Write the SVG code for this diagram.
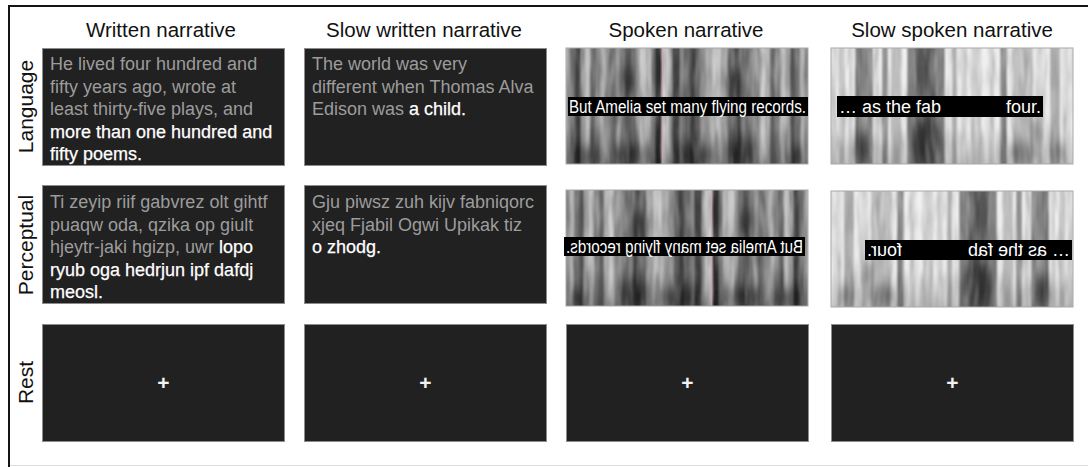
<svg xmlns="http://www.w3.org/2000/svg" width="1088" height="467" viewBox="0 0 1088 467">
  <style>
    .hdr { font-family: "Liberation Sans", Arial, sans-serif; font-size: 20.5px; fill: #111; text-anchor: middle; }
    .rowlab { font-family: "Liberation Sans", Arial, sans-serif; font-size: 21px; fill: #111; text-anchor: middle; }
    .panel { fill: #212121; stroke: #8c8c8c; stroke-width: 1; }
    .body { font-family: "Liberation Sans", Arial, sans-serif; font-size: 18px; fill: #9c9c9c; }
    .hi { fill: #ffffff; stroke: #ffffff; stroke-width: 0.25; }
    .plus { font-family: "Liberation Sans", Arial, sans-serif; font-size: 21px; font-weight: bold; fill: #f2f2f2; text-anchor: middle; }
    .bar { fill: #000; }
    .cap { font-family: "Liberation Sans", Arial, sans-serif; font-size: 17.5px; fill: #fff; }
    .specframe { fill: none; stroke: #a8a8a8; stroke-width: 1; }
  </style>
  <defs>
    <clipPath id="specClip"><rect x="0" y="0" width="242" height="116"/></clipPath>
    <filter id="soft" x="-5%" y="-5%" width="110%" height="110%">
      <feGaussianBlur stdDeviation="1.2 1.8"/>
    </filter>
    <filter id="smear" x="-20%" y="-20%" width="140%" height="140%">
      <feGaussianBlur stdDeviation="4 6"/>
    </filter>
    <filter id="grainDark" x="0" y="0" width="1" height="1">
      <feTurbulence type="fractalNoise" baseFrequency="0.25 0.025" numOctaves="2" seed="3"/>
      <feColorMatrix type="matrix" values="0 0 0 0 0  0 0 0 0 0  0 0 0 0 0  2.2 0 0 0 -0.95"/>
      <feGaussianBlur stdDeviation="0.8 1.6"/>
    </filter>
    <filter id="grainLight" x="0" y="0" width="1" height="1">
      <feTurbulence type="fractalNoise" baseFrequency="0.25 0.025" numOctaves="2" seed="11"/>
      <feColorMatrix type="matrix" values="0 0 0 0 1  0 0 0 0 1  0 0 0 0 1  2.2 0 0 0 -0.95"/>
      <feGaussianBlur stdDeviation="0.8 1.6"/>
    </filter>
    <linearGradient id="floor" x1="0" y1="0" x2="0" y2="1">
      <stop offset="0" stop-color="#000" stop-opacity="0"/>
      <stop offset="0.65" stop-color="#000" stop-opacity="0.04"/>
      <stop offset="1" stop-color="#000" stop-opacity="0.35"/>
    </linearGradient>

    <!-- spectrogram of the normal-rate sentence, 242 x 116 -->
    <g id="specA">
      <g clip-path="url(#specClip)">
        <g filter="url(#soft)">
          <rect x="-6" y="-6" width="254" height="128" fill="#e4e4e4"/>
          <g fill="#000">
            <rect x="0" y="-6" width="4" height="128" opacity="0.3"/>
            <rect x="4" y="-6" width="5" height="128" opacity="0.5"/>
            <rect x="9" y="-6" width="6" height="128" opacity="0.72"/>
            <rect x="15" y="-6" width="4" height="128" opacity="0.3"/>
            <rect x="19" y="-6" width="5" height="128" opacity="0.15"/>
            <rect x="24" y="-6" width="6" height="128" opacity="0.55"/>
            <rect x="30" y="-6" width="4" height="128" opacity="0.4"/>
            <rect x="34" y="-6" width="5" height="128" opacity="0.2"/>
            <rect x="39" y="-6" width="5" height="128" opacity="0.35"/>
            <rect x="44" y="-6" width="6" height="128" opacity="0.5"/>
            <rect x="50" y="-6" width="4" height="128" opacity="0.3"/>
            <rect x="54" y="-6" width="5" height="128" opacity="0.45"/>
            <rect x="59" y="-6" width="6" height="128" opacity="0.62"/>
            <rect x="65" y="-6" width="5" height="128" opacity="0.52"/>
            <rect x="70" y="-6" width="4" height="128" opacity="0.3"/>
            <rect x="74" y="-6" width="6" height="128" opacity="0.12"/>
            <rect x="80" y="-6" width="5" height="128" opacity="0.2"/>
            <rect x="85" y="-6" width="4" height="128" opacity="0.45"/>
            <rect x="89" y="-6" width="7" height="128" opacity="0.78"/>
            <rect x="98" y="-6" width="5" height="128" opacity="0.15"/>
            <rect x="103" y="-6" width="3" height="128" opacity="0.3"/>
            <rect x="106" y="-6" width="8" height="128" opacity="0.7"/>
            <rect x="114" y="-6" width="4" height="128" opacity="0.4"/>
            <rect x="118" y="-6" width="6" height="128" opacity="0.55"/>
            <rect x="124" y="-6" width="5" height="128" opacity="0.72"/>
            <rect x="129" y="-6" width="5" height="128" opacity="0.58"/>
            <rect x="134" y="-6" width="6" height="128" opacity="0.35"/>
            <rect x="140" y="-6" width="6" height="128" opacity="0.25"/>
            <rect x="146" y="-6" width="8" height="128" opacity="0.14"/>
            <rect x="154" y="-6" width="8" height="128" opacity="0.25"/>
            <rect x="162" y="-6" width="6" height="128" opacity="0.55"/>
            <rect x="168" y="-6" width="6" height="128" opacity="0.68"/>
            <rect x="174" y="-6" width="5" height="128" opacity="0.5"/>
            <rect x="179" y="-6" width="7" height="128" opacity="0.45"/>
            <rect x="186" y="-6" width="8" height="128" opacity="0.35"/>
            <rect x="194" y="-6" width="5" height="128" opacity="0.1"/>
            <rect x="199" y="-6" width="5" height="128" opacity="0.2"/>
            <rect x="204" y="-6" width="5" height="128" opacity="0.55"/>
            <rect x="209" y="-6" width="5" height="128" opacity="0.4"/>
            <rect x="214" y="-6" width="5" height="128" opacity="0.14"/>
            <rect x="219" y="-6" width="5" height="128" opacity="0.25"/>
            <rect x="224" y="-6" width="5" height="128" opacity="0.62"/>
            <rect x="229" y="-6" width="5" height="128" opacity="0.5"/>
            <rect x="234" y="-6" width="4" height="128" opacity="0.2"/>
            <rect x="238" y="-6" width="8" height="128" opacity="0.35"/>
          </g>
          <rect x="-6" y="0" width="254" height="122" fill="url(#floor)"/>
        </g>
        <g fill="#000" opacity="0.4" filter="url(#smear)">
          <ellipse cx="20" cy="108" rx="14" ry="9"/>
          <ellipse cx="66" cy="106" rx="18" ry="9"/>
          <ellipse cx="128" cy="106" rx="20" ry="10"/>
          <ellipse cx="176" cy="102" rx="16" ry="13"/>
          <ellipse cx="228" cy="108" rx="9" ry="8"/>
          <ellipse cx="62" cy="34" rx="8" ry="16"/>
          <ellipse cx="168" cy="40" rx="8" ry="18"/>
        </g>
        <rect x="0" y="0" width="242" height="116" fill="#000" filter="url(#grainDark)" opacity="0.3"/>
        <rect x="0" y="0" width="242" height="116" fill="#fff" filter="url(#grainLight)" opacity="0.3"/>
        <line x1="96.5" y1="0" x2="96.5" y2="116" stroke="#d8a2ab" stroke-width="1.2" opacity="0.8"/>
      </g>
      <rect class="specframe" x="0" y="0" width="242" height="116"/>
    </g>

    <!-- spectrogram of the slowed sentence, 242 x 116 -->
    <g id="specB">
      <g clip-path="url(#specClip)">
        <g filter="url(#soft)">
          <rect x="-6" y="-6" width="254" height="128" fill="#efefef"/>
          <g fill="#000">
            <rect x="0" y="-6" width="6" height="128" opacity="0.08"/>
            <rect x="8" y="-6" width="6" height="128" opacity="0.14"/>
            <rect x="18" y="-6" width="4" height="128" opacity="0.1"/>
            <rect x="24" y="-6" width="8" height="128" opacity="0.5"/>
            <rect x="32" y="-6" width="10" height="128" opacity="0.4"/>
            <rect x="44" y="-6" width="4" height="128" opacity="0.12"/>
            <rect x="51" y="-6" width="6" height="128" opacity="0.38"/>
            <rect x="60" y="-6" width="10" height="128" opacity="0.2"/>
            <rect x="76" y="-6" width="8" height="128" opacity="0.45"/>
            <rect x="84" y="-6" width="20" height="128" opacity="0.62"/>
            <rect x="104" y="-6" width="10" height="128" opacity="0.45"/>
            <rect x="121" y="-6" width="5" height="128" opacity="0.26"/>
            <rect x="130" y="-6" width="6" height="128" opacity="0.08"/>
            <rect x="140" y="-6" width="10" height="128" opacity="0.12"/>
            <rect x="158" y="-6" width="5" height="128" opacity="0.1"/>
            <rect x="169" y="-6" width="7" height="128" opacity="0.42"/>
            <rect x="182" y="-6" width="20" height="128" opacity="0.2"/>
            <rect x="206" y="-6" width="6" height="128" opacity="0.1"/>
            <rect x="219" y="-6" width="10" height="128" opacity="0.26"/>
            <rect x="232" y="-6" width="6" height="128" opacity="0.08"/>
          </g>
          <rect x="-6" y="0" width="254" height="122" fill="url(#floor)" opacity="0.6"/>
        </g>
        <g fill="#000" opacity="0.4" filter="url(#smear)">
          <ellipse cx="32" cy="100" rx="9" ry="14"/>
          <ellipse cx="95" cy="92" rx="16" ry="20"/>
          <ellipse cx="192" cy="104" rx="13" ry="10"/>
          <ellipse cx="205" cy="82" rx="5" ry="14"/>
          <ellipse cx="225" cy="104" rx="6" ry="8"/>
        </g>
        <rect x="0" y="0" width="242" height="116" fill="#000" filter="url(#grainDark)" opacity="0.2"/>
        <rect x="0" y="0" width="242" height="116" fill="#fff" filter="url(#grainLight)" opacity="0.3"/>
      </g>
      <rect class="specframe" x="0" y="0" width="242" height="116"/>
    </g>
  </defs>

  <rect x="0" y="0" width="1088" height="467" fill="#ffffff"/>

  <!-- outer frame -->
  <g id="frame" fill="none">
    <line x1="8" y1="6" x2="1088" y2="6" stroke="#141414" stroke-width="2"/>
    <line x1="9" y1="5" x2="9" y2="467" stroke="#141414" stroke-width="2"/>
    <line x1="10" y1="465.5" x2="1088" y2="465.5" stroke="#dedede" stroke-width="1"/>
  </g>

  <!-- column headings -->
  <g id="headings">
    <text class="hdr" x="161" y="37">Written narrative</text>
    <text class="hdr" x="424" y="37">Slow written narrative</text>
    <text class="hdr" x="686" y="37">Spoken narrative</text>
    <text class="hdr" x="952" y="37">Slow spoken narrative</text>
  </g>

  <!-- row labels -->
  <g id="row-labels">
    <text class="rowlab" transform="translate(33,106.5) rotate(-90)">Language</text>
    <text class="rowlab" transform="translate(33,245) rotate(-90)">Perceptual</text>
    <text class="rowlab" transform="translate(33,382.5) rotate(-90)">Rest</text>
  </g>

  <!-- Language row -->
  <g id="lang-written">
    <rect class="panel" x="42.5" y="48.5" width="242" height="117"/>
    <text class="body" x="50" y="70">He lived four hundred and</text>
    <text class="body" x="50" y="92.5">fifty years ago, wrote at</text>
    <text class="body" x="50" y="115">least thirty-five plays, and</text>
    <text class="body hi" x="50" y="137.5">more than one hundred and</text>
    <text class="body hi" x="50" y="160">fifty poems.</text>
  </g>
  <g id="lang-slow-written">
    <rect class="panel" x="304.5" y="48.5" width="242" height="117"/>
    <text class="body" x="312" y="70">The world was very</text>
    <text class="body" x="312" y="92.5">different when Thomas Alva</text>
    <text class="body" x="312" y="115">Edison was <tspan class="hi">a child.</tspan></text>
  </g>
  <g id="lang-spoken">
    <use href="#specA" transform="translate(566,48)"/>
    <rect class="bar" x="568" y="97" width="240" height="19"/>
    <text class="cap" x="569" y="112.5" textLength="237" lengthAdjust="spacingAndGlyphs">But Amelia set many flying records.</text>
  </g>
  <g id="lang-slow-spoken">
    <use href="#specB" transform="translate(831,48)"/>
    <rect class="bar" x="837" y="96" width="206" height="21"/>
    <text class="cap" x="839" y="112.5" style="font-size:18px">… as the fab</text>
    <text class="cap" x="1041" y="112.5" style="font-size:18px" text-anchor="end">four.</text>
  </g>

  <!-- Perceptual row -->
  <g id="perc-written">
    <rect class="panel" x="42.5" y="185.5" width="242" height="118"/>
    <text class="body" x="50" y="208">Ti zeyip riif gabvrez olt gihtf</text>
    <text class="body" x="50" y="230.5">puaqw oda, qzika op giult</text>
    <text class="body" x="50" y="253">hjeytr-jaki hgizp, uwr <tspan class="hi">lopo</tspan></text>
    <text class="body hi" x="50" y="275.5">ryub oga hedrjun ipf dafdj</text>
    <text class="body hi" x="50" y="298">meosl.</text>
  </g>
  <g id="perc-slow-written">
    <rect class="panel" x="304.5" y="185.5" width="242" height="118"/>
    <text class="body" x="312" y="208">Gju piwsz zuh kijv fabniqorc</text>
    <text class="body" x="312" y="230.5">xjeq Fjabil Ogwi Upikak tiz</text>
    <text class="body hi" x="312" y="253">o zhodg.</text>
  </g>
  <g id="perc-spoken">
    <use href="#specA" transform="translate(808,190) scale(-1,1)"/>
    <rect class="bar" x="564" y="237" width="241" height="19"/>
    <text class="cap" transform="matrix(-1 0 0 1 1369 0)" x="566" y="252.5" textLength="237" lengthAdjust="spacingAndGlyphs">But Amelia set many flying records.</text>
  </g>
  <g id="perc-slow-spoken">
    <use href="#specB" transform="translate(1073,191) scale(-1,1)"/>
    <rect class="bar" x="865" y="240" width="207" height="20"/>
    <g transform="matrix(-1 0 0 1 1937 0)">
      <text class="cap" x="867" y="256" style="font-size:18px">… as the fab</text>
      <text class="cap" x="1070" y="256" style="font-size:18px" text-anchor="end">four.</text>
    </g>
  </g>

  <!-- Rest row -->
  <g id="rest-written">
    <rect class="panel" x="42.5" y="324.5" width="242" height="117"/>
    <text class="plus" x="163.5" y="390">+</text>
  </g>
  <g id="rest-slow-written">
    <rect class="panel" x="304.5" y="324.5" width="242" height="117"/>
    <text class="plus" x="425.5" y="390">+</text>
  </g>
  <g id="rest-spoken">
    <rect class="panel" x="566.5" y="324.5" width="242" height="117"/>
    <text class="plus" x="687.5" y="390">+</text>
  </g>
  <g id="rest-slow-spoken">
    <rect class="panel" x="831.5" y="324.5" width="242" height="117"/>
    <text class="plus" x="952.5" y="390">+</text>
  </g>
</svg>
